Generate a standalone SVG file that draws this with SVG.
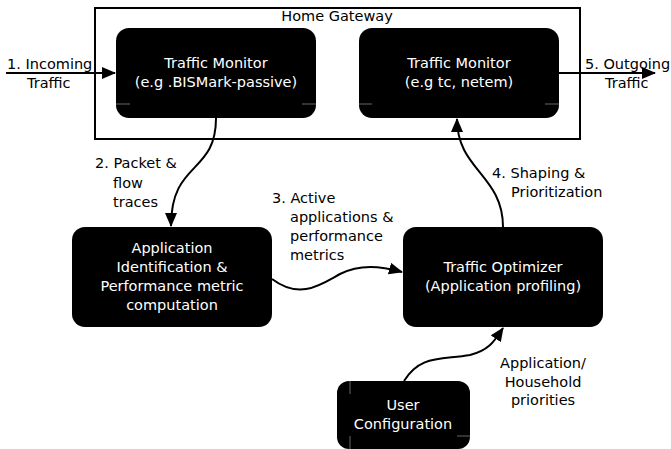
<svg xmlns="http://www.w3.org/2000/svg" width="671" height="449" viewBox="0 0 671 449">
<defs>
<marker id="ah" markerWidth="14" markerHeight="12" refX="13" refY="6" orient="auto" markerUnits="userSpaceOnUse" viewBox="0 0 14 12">
<path d="M0,0 L14,6 L0,12 z" fill="#000"/>
</marker>
<style>
.node{fill:#000;}
.nt{font-family:"DejaVu Sans",sans-serif;font-size:14.5px;fill:#fff;text-anchor:middle;}
.lb{font-family:"DejaVu Sans",sans-serif;font-size:14.5px;fill:#000;}
.cn{fill:none;stroke:#000;stroke-width:2;}
.tick{stroke:#666;stroke-width:1;}
</style>
</defs>
<rect width="671" height="449" fill="#fff"/>
<g id="gateway">
<rect x="95" y="8" width="485" height="131" fill="none" stroke="#000" stroke-width="2"/>
<text class="lb" x="337" y="21" text-anchor="middle">Home Gateway</text>
</g>
<g id="tm1">
<rect class="node" x="116" y="28" width="200" height="90" rx="13"/>
<line class="tick" x1="116" y1="104" x2="130" y2="104"/><line class="tick" x1="302" y1="104" x2="316" y2="104"/>
<text class="nt" x="216" y="68">Traffic Monitor</text>
<text class="nt" x="216" y="87">(e.g .BISMark-passive)</text>
</g>
<g id="tm2">
<rect class="node" x="359" y="28" width="200" height="90" rx="13"/>
<line class="tick" x1="359" y1="104" x2="372" y2="104"/><line class="tick" x1="545" y1="104" x2="559" y2="104"/>
<text class="nt" x="459" y="68">Traffic Monitor</text>
<text class="nt" x="459" y="87">(e.g tc, netem)</text>
</g>
<g id="appid">
<rect class="node" x="72" y="227" width="200" height="100" rx="13"/>
<text class="nt" x="172" y="253">Application</text>
<text class="nt" x="172" y="272">Identification &amp;</text>
<text class="nt" x="172" y="291">Performance metric</text>
<text class="nt" x="172" y="310">computation</text>
</g>
<g id="optimizer">
<rect class="node" x="403" y="227" width="200" height="100" rx="13"/>
<text class="nt" x="503" y="272">Traffic Optimizer</text>
<text class="nt" x="503" y="291">(Application profiling)</text>
</g>
<g id="userconfig">
<rect class="node" x="337" y="381" width="133" height="68" rx="12"/>
<line class="tick" x1="350" y1="381" x2="350" y2="394"/><line class="tick" x1="350" y1="436" x2="350" y2="449"/><line class="tick" x1="457" y1="436" x2="470" y2="436"/>
<text class="nt" x="403" y="410">User</text>
<text class="nt" x="403" y="429">Configuration</text>
</g>
<g id="connectors">
<path class="cn" d="M6,73 L115,73" marker-end="url(#ah)"/>
<path class="cn" d="M559,73 L655,73" marker-end="url(#ah)"/>
<path class="cn" d="M216,118 C216,175 171,160 171,226" marker-end="url(#ah)"/>
<path class="cn" d="M272,279 C300,300 320,285 340,274 C360,264 380,266 402,272" marker-end="url(#ah)"/>
<path class="cn" d="M503,227 C503,175 457,170 457,119" marker-end="url(#ah)"/>
<path class="cn" d="M404,381 C420,355 440,360 470,355 C490,350 495,340 503,328" marker-end="url(#ah)"/>
</g>
<g id="labels">
<text class="lb" x="7" y="69">1. Incoming</text>
<text class="lb" x="27" y="88">Traffic</text>
<text class="lb" x="585" y="69">5. Outgoing</text>
<text class="lb" x="605" y="88">Traffic</text>
<text class="lb" x="95" y="168">2. Packet &amp;</text>
<text class="lb" x="113" y="188">flow</text>
<text class="lb" x="113" y="207">traces</text>
<text class="lb" x="272" y="203">3. Active</text>
<text class="lb" x="290" y="222">applications &amp;</text>
<text class="lb" x="290" y="241">performance</text>
<text class="lb" x="290" y="260">metrics</text>
<text class="lb" x="492" y="178">4. Shaping &amp;</text>
<text class="lb" x="511" y="197">Prioritization</text>
<text class="lb" x="543" y="368" text-anchor="middle">Application/</text>
<text class="lb" x="543" y="387" text-anchor="middle">Household</text>
<text class="lb" x="543" y="405" text-anchor="middle">priorities</text>
</g>
</svg>
